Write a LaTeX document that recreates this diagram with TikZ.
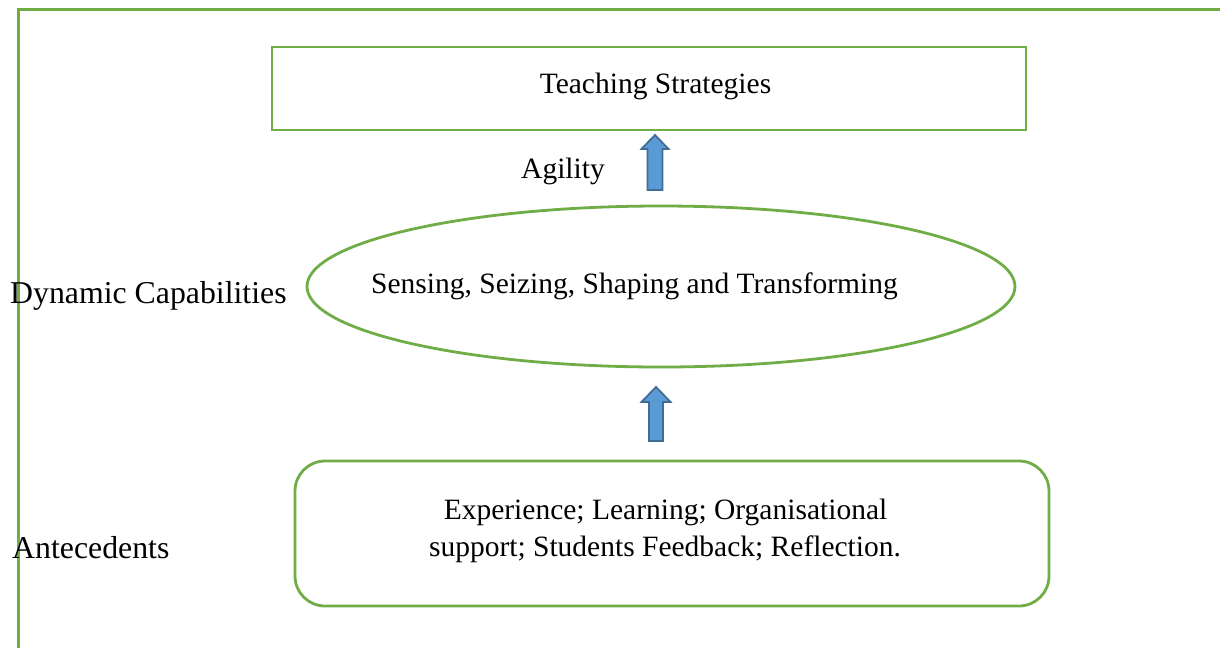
\documentclass[tikz,border=0pt]{standalone}
\usepackage{fontspec}
\setmainfont{Liberation Serif}
\begin{document}
\begin{tikzpicture}[x=1pt,y=-1pt,
  greenline/.style={draw=ogreen, line width=2.8pt},
  inner/.style={font=\fontsize{29.5}{35}\selectfont, inner sep=0pt, anchor=base},
  side/.style={font=\fontsize{31.8}{38}\selectfont, inner sep=0pt, anchor=base west},
  blockarrow/.style={fill=oblue, draw=oblue!70!black, line width=1.8pt, line join=miter}
]
\definecolor{ogreen}{HTML}{70AD47}
\definecolor{oblue}{HTML}{5B9BD5}
\useasboundingbox (0,0) rectangle (1220,648);
\fill[white] (0,0) rectangle (1220,648);

% outer frame (only its top and left sides fall inside the page)
\draw[greenline, line width=3pt] (18,648) -- (18,9) -- (1220,9);

% top box
\node[greenline, rectangle, minimum width=754pt, minimum height=83pt, inner sep=0pt]
  (ts) at (649,88.5) {};
\node[inner] (tstext) at (655.5,93) {Teaching Strategies};

% ellipse
\draw[greenline] (661,286.5) ellipse [x radius=354, y radius=80.5];
\coordinate (dc) at (661,286.5);
\node[inner] (dctext) at (634.5,293) {Sensing, Seizing, Shaping and Transforming};

% bottom rounded box
\draw[greenline, rounded corners=30pt] (295,461) rectangle (1049,606);
\node[inner] (an1) at (665.5,519) {Experience; Learning; Organisational};
\node[inner] (an2) at (665,556.5) {support; Students Feedback; Reflection.};

% side labels
\node[side] (lbl1) at (10,303) {Dynamic Capabilities};
\node[side] (lbl2) at (12,558) {Antecedents};
\node[inner] (agility) at (563,178) {Agility};

% block arrows
\draw[blockarrow] (655,135) -- (668.5,149) -- (662.5,149) -- (662.5,190)
  -- (647.5,190) -- (647.5,149) -- (641.5,149) -- cycle;
\draw[blockarrow] (656,387) -- (670.5,402) -- (663,402) -- (663,441)
  -- (649,441) -- (649,402) -- (641.5,402) -- cycle;
\end{tikzpicture}
\end{document}
